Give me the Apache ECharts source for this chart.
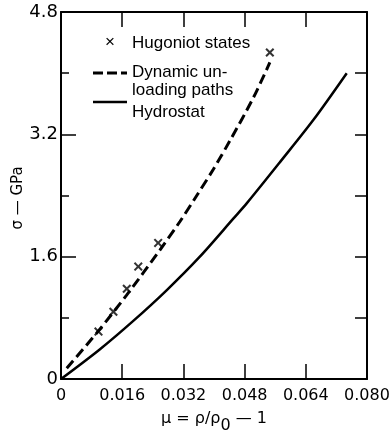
<!DOCTYPE html>
<html>
<head>
<meta charset="utf-8">
<script src="https://cdn.jsdelivr.net/npm/echarts@6/dist/echarts.min.js"></script>
<style>
html,body{margin:0;padding:0;background:#fff;}
#c{width:392px;height:437px;}
</style>
</head>
<body>
<div id="c"></div>
<script>
// ---- data ----
var hugoniotMu    = [0.0098, 0.0137, 0.0172, 0.0202, 0.0254, 0.0546];
var hugoniotSigma = [0.62, 0.88, 1.18, 1.47, 1.78, 4.27];
var bracketMu     = [0.0466];
var bracketSigma  = [3.54];
var unloadMu      = [0.0015, 0.0093, 0.0172, 0.0259, 0.0311, 0.0355, 0.0398, 0.0442, 0.0503, 0.0546];
var unloadSigma   = [0.14, 0.60, 1.10, 1.69, 2.06, 2.40, 2.74, 3.12, 3.68, 4.14];
var hydroMu       = [0, 0.0102, 0.0189, 0.0276, 0.0363, 0.0451, 0.0486, 0.0573, 0.0660, 0.0747];
var hydroSigma    = [0, 0.39, 0.76, 1.16, 1.60, 2.10, 2.30, 2.84, 3.39, 4.00];
var xTicks = ['0', '0.016', '0.032', '0.048', '0.064', '0.080'];
var yTicks = ['0', '1.6', '3.2', '4.8'];

function pairs(a, b){ return a.map(function(v,i){ return [v, b[i]]; }); }

var FONT = 'Liberation Sans';
var NUMFONT = 'DejaVu Sans';
var crossPath = 'path://M0,1.6L1.6,0L5,3.4L8.4,0L10,1.6L6.6,5L10,8.4L8.4,10L5,6.6L1.6,10L0,8.4L3.4,5Z';

function tickOnly(extra){
  var base = {
    type: 'value', axisLine: {show: false}, splitLine: {show: false},
    axisLabel: {show: false}
  };
  for (var k in extra) base[k] = extra[k];
  return base;
}

var chart = echarts.init(document.getElementById('c'), null, {renderer:'canvas'});
chart.setOption({
  backgroundColor: '#fff',
  animation: false,
  grid: {left: 61, right: 25, top: 12, bottom: 58, show: false, containLabel: false, outerBoundsMode: 'none'},
  xAxis: [{
    type: 'value', min: 0, max: 0.08, interval: 0.016, position: 'bottom',
    axisLine: {show: true, onZero: false, lineStyle: {color: '#000', width: 2}},
    axisTick: {show: false},
    splitLine: {show: false},
    axisLabel: {margin: 9, color: '#000', fontFamily: NUMFONT, fontSize: 16,
      formatter: function(v){ return xTicks[Math.round(v/0.016)]; }},
    name: '{a|μ = ρ/ρ}{s|0}{a| — 1}', nameLocation: 'middle', nameGap: 25,
    nameTextStyle: {color: '#000', fontFamily: NUMFONT,
      rich: {a: {fontSize: 16, fontFamily: NUMFONT, color: '#000'},
             s: {fontSize: 16, fontFamily: NUMFONT, color: '#000', padding: [14,0,0,0]}}}
  },{
    type: 'value', min: 0, max: 0.08, interval: 0.016, position: 'top',
    axisLine: {show: true, onZero: false, lineStyle: {color: '#000', width: 2}},
    axisTick: {show: true, inside: true, length: 15, lineStyle: {color: '#000', width: 1.5}},
    splitLine: {show: false}, axisLabel: {show: false}
  }, tickOnly({
    min: 0, max: 0.08, interval: 0.016, position: 'bottom',
    axisTick: {show: true, inside: true, length: 15, lineStyle: {color: '#000', width: 1.5}}
  })],
  yAxis: [{
    type: 'value', min: 0, max: 4.8, interval: 1.6, position: 'left',
    axisLine: {show: true, onZero: false, lineStyle: {color: '#000', width: 2}},
    axisTick: {show: false},
    splitLine: {show: false},
    axisLabel: {margin: 3, color: '#000', fontFamily: NUMFONT, fontSize: 18,
      formatter: function(v){ return yTicks[Math.round(v/1.6)]; }}
  },{
    type: 'value', min: 0, max: 4.8, interval: 0.8, position: 'right',
    axisLine: {show: true, onZero: false, lineStyle: {color: '#000', width: 2}},
    axisTick: {show: true, inside: true, length: 12, lineStyle: {color: '#000', width: 1.5}},
    splitLine: {show: false}, axisLabel: {show: false}
  }, tickOnly({
    min: 0, max: 4.8, interval: 0.8, position: 'left',
    axisTick: {show: true, inside: true, length: 8, lineStyle: {color: '#000', width: 1.5}}
  }), tickOnly({
    min: 0, max: 4.8, interval: 1.6, position: 'left',
    axisTick: {show: true, inside: true, length: 15, lineStyle: {color: '#000', width: 1.5}}
  })],
  series: [{
    name: 'Dynamic unloading paths', type: 'line', smooth: 0.3, symbol: 'none',
    data: pairs(unloadMu, unloadSigma),
    lineStyle: {color: '#000', width: 3, type: [10, 5]}
  },{
    name: 'Hydrostat', type: 'line', smooth: 0.3, symbol: 'none',
    data: pairs(hydroMu, hydroSigma),
    lineStyle: {color: '#000', width: 2.5}
  },{
    name: 'Hugoniot states', type: 'scatter', symbol: crossPath, symbolSize: 9,
    data: pairs(hugoniotMu, hugoniotSigma),
    itemStyle: {color: '#000'}
  },{
    name: 'Hugoniot (bracketed)', type: 'scatter', symbolSize: 1,
    data: pairs(bracketMu, bracketSigma),
    itemStyle: {opacity: 0},
    label: {show: true, position: 'inside', formatter: '(×)', color: '#000',
      fontFamily: FONT, fontSize: 16}
  }],
  graphic: [
    {type: 'text', x: 18, y: 198, rotation: Math.PI / 2,
      style: {text: 'σ — GPa', font: '15px ' + NUMFONT, fill: '#000', align: 'center', verticalAlign: 'middle'}},
    {type: 'text', left: 105, top: 34, style: {text: '×', font: '17px ' + FONT, fill: '#000'}},
    {type: 'text', left: 132, top: 35, style: {text: 'Hugoniot states', font: '17px ' + FONT, fill: '#000'}},
    {type: 'line', shape: {x1: 93, y1: 73, x2: 127, y2: 73}, style: {stroke: '#000', lineWidth: 3, lineDash: [10, 4]}},
    {type: 'text', left: 132, top: 64, style: {text: 'Dynamic un-', font: '17px ' + FONT, fill: '#000'}},
    {type: 'text', left: 132, top: 82, style: {text: 'loading paths', font: '17px ' + FONT, fill: '#000'}},
    {type: 'line', shape: {x1: 93, y1: 102, x2: 127, y2: 102}, style: {stroke: '#000', lineWidth: 2.5}},
    {type: 'text', left: 132, top: 104, style: {text: 'Hydrostat', font: '17px ' + FONT, fill: '#000'}}
  ]
});
</script>
</body>
</html>
